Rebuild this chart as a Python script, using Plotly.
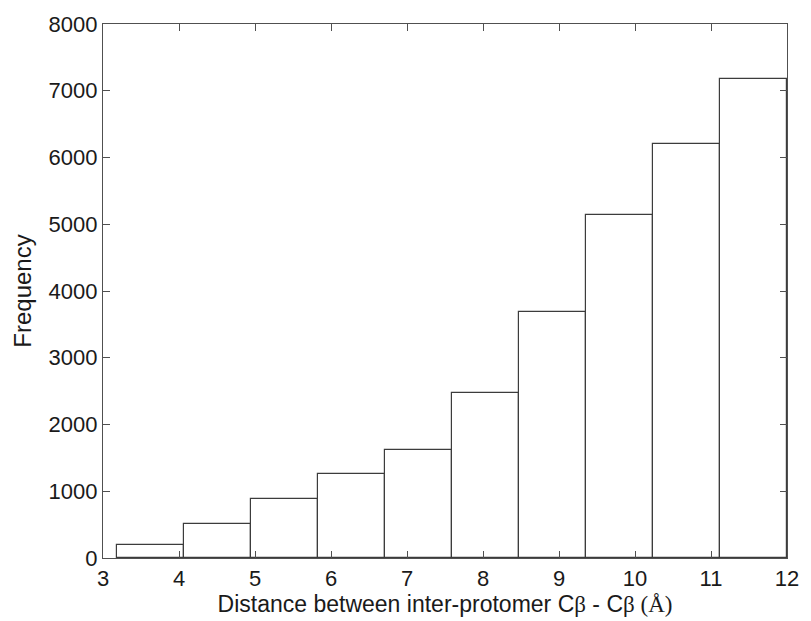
import plotly.graph_objects as go

bin_edges = [3.18, 4.062, 4.944, 5.826, 6.708, 7.59, 8.472, 9.354, 10.236, 11.118, 12.0]
counts = [190, 513, 890, 1262, 1612, 2475, 3680, 5135, 6195, 7170]
x_ticks = [3, 4, 5, 6, 7, 8, 9, 10, 11, 12]
y_ticks = [0, 1000, 2000, 3000, 4000, 5000, 6000, 7000, 8000]

centers = [(bin_edges[i] + bin_edges[i + 1]) / 2 for i in range(len(counts))]
widths = [bin_edges[i + 1] - bin_edges[i] for i in range(len(counts))]

font_main = "Liberation Sans, Arial, sans-serif"
serif = "Liberation Serif, Times New Roman, serif"
axis_col = "#505050"

fig = go.Figure(go.Bar(
    x=centers, y=counts, width=widths,
    marker=dict(color="white", line=dict(color="#3c3c3c", width=1.2)),
    hoverinfo="x+y",
))

fig.update_layout(
    width=811, height=621,
    margin=dict(l=103, r=14, t=22, b=58),
    paper_bgcolor="white", plot_bgcolor="white",
    font=dict(family=font_main, size=22, color="#1a1a1a"),
    showlegend=False,
    bargap=0,
)

fig.update_xaxes(
    range=[3, 12], tickvals=x_ticks, ticktext=[str(v) for v in x_ticks],
    showgrid=False, zeroline=False,
    showline=True, linecolor=axis_col, linewidth=1.3, mirror="ticks",
    ticks="inside", ticklen=7, tickcolor=axis_col, tickwidth=1,
    tickfont=dict(size=22),
    title=dict(
        text='Distance between inter-protomer C<span style="font-family:' + serif + '">β</span> - '
             'C<span style="font-family:' + serif + '">β (Å)</span>',
        font=dict(size=23), standoff=2),
)
fig.update_yaxes(
    range=[0, 8000], tickvals=y_ticks, ticktext=[str(v) for v in y_ticks],
    showgrid=False, zeroline=False,
    showline=True, linecolor=axis_col, linewidth=1.3, mirror="ticks",
    ticks="inside", ticklen=7, tickcolor=axis_col, tickwidth=1,
    tickfont=dict(size=22),
    title=dict(text="Frequency", font=dict(size=24), standoff=10),
)

fig.write_html(
    "out.html",
    config={"displayModeBar": False},
    post_script="document.body.style.margin='0';document.body.style.overflow='hidden';",
)
